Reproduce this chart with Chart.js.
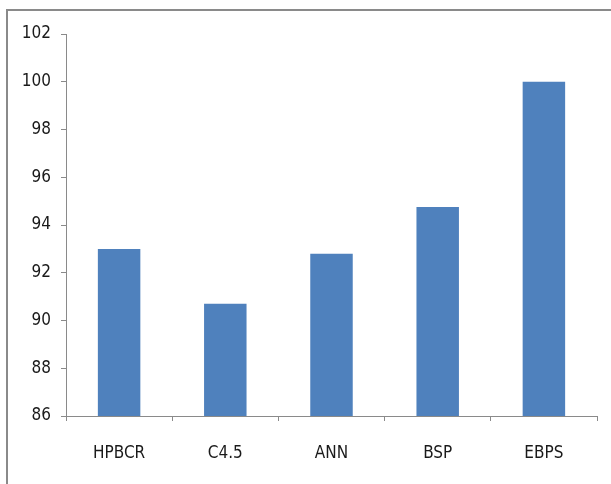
<!DOCTYPE html>
<html>
<head>
<meta charset="utf-8">
<script src="https://cdn.jsdelivr.net/npm/chart.js@4"></script>
<style>
  html, body { margin: 0; padding: 0; background: #fff; overflow: hidden; }
  #frame { position: absolute; left: 6px; top: 9px; width: 700px; height: 600px; border: 2px solid #8a8a8a; box-sizing: border-box; }
  #wrap { position: absolute; left: 0; top: 0; width: 611px; height: 484px; }
</style>
</head>
<body>
<div id="frame"></div>
<div id="wrap"><canvas id="c" width="611" height="484"></canvas></div>
<script>
// Accuracy (%) of each classification method
const methods = ["HPBCR", "C4.5", "ANN", "BSP", "EBPS"];
const accuracy = [93.0, 90.7, 92.8, 94.75, 100.0];
const yMin = 86, yMax = 102, yStep = 2;

const axisGray = "#8a8a8a";
const labelFont = { family: "'DejaVu Sans Condensed', 'Liberation Sans', sans-serif", size: 17 };

new Chart(document.getElementById("c"), {
  type: "bar",
  data: {
    labels: methods,
    datasets: [{
      data: accuracy,
      backgroundColor: "#4f81bd",
      borderWidth: 0,
      barPercentage: 0.4,
      categoryPercentage: 1.0
    }]
  },
  options: {
    responsive: false,
    animation: false,
    devicePixelRatio: 1,
    layout: { padding: { top: 34, right: 14, bottom: 0, left: 0 } },
    plugins: { legend: { display: false }, tooltip: { enabled: false } },
    scales: {
      x: {
        grid: { display: true, drawOnChartArea: false, drawTicks: true, tickLength: 5, color: axisGray, offset: true },
        border: { display: true, color: axisGray, width: 1 },
        ticks: { color: "#1a1a1a", font: labelFont, padding: 22, maxRotation: 0 },
        afterFit(scale) { scale.height = 68; }
      },
      y: {
        min: yMin, max: yMax,
        grid: { display: true, drawOnChartArea: false, drawTicks: true, tickLength: 5, color: axisGray },
        border: { display: true, color: axisGray, width: 1 },
        ticks: { stepSize: yStep, color: "#1a1a1a", font: labelFont, padding: 10 },
        afterFit(scale) { scale.width = 66; }
      }
    }
  }
});
</script>
</body>
</html>
